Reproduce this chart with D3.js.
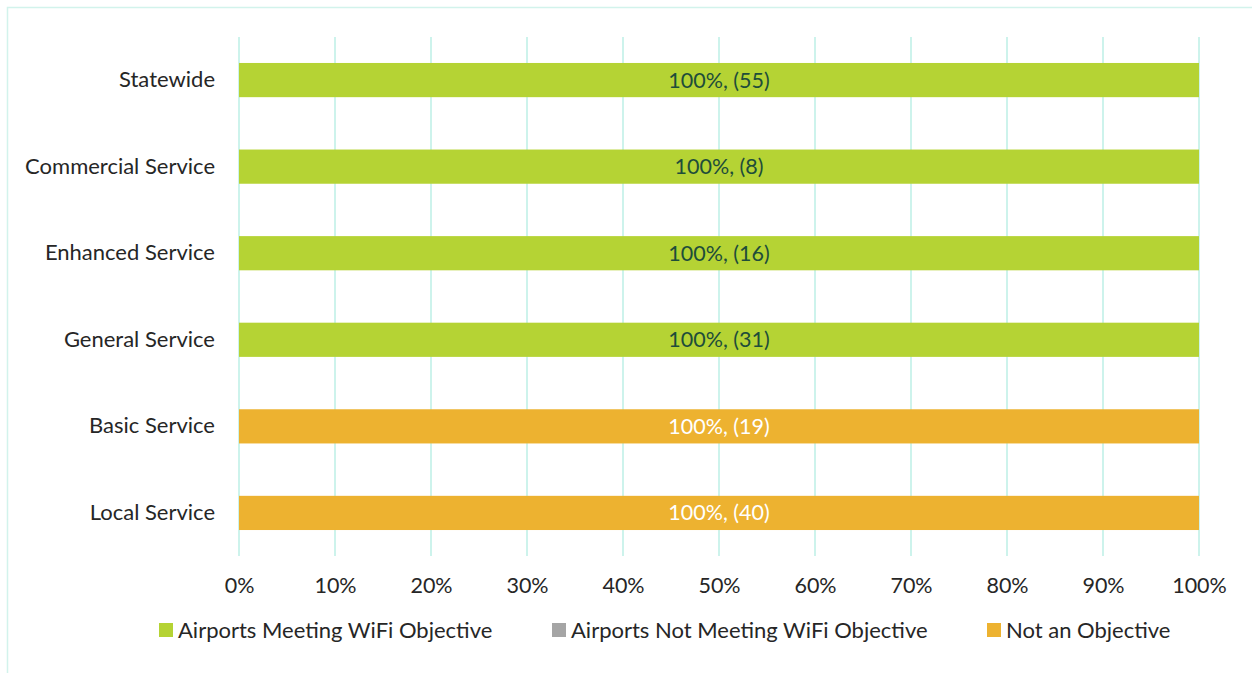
<!DOCTYPE html>
<html>
<head>
<meta charset="utf-8">
<script src="https://cdn.jsdelivr.net/npm/d3@7"></script>
<style>
  body { margin: 0; background: #fff; }
  svg text { font-family: Lato, "Open Sans", sans-serif; }
</style>
</head>
<body>
<svg id="chart" width="1252" height="673"></svg>
<script>
// data
const categories = ["Statewide", "Commercial Service", "Enhanced Service", "General Service", "Basic Service", "Local Service"];
const meeting = [100, 100, 100, 100, 0, 0];
const notMeeting = [0, 0, 0, 0, 0, 0];
const notObjective = [0, 0, 0, 0, 100, 100];
const counts = [55, 8, 16, 31, 19, 40];
const seriesNames = ["Airports Meeting WiFi Objective", "Airports Not Meeting WiFi Objective", "Not an Objective"];
const seriesColors = ["#b5d334", "#a5a5a5", "#edb230"];
const labelColors = ["#1e4d3a", "#ffffff", "#ffffff"];
const xTicks = [0, 10, 20, 30, 40, 50, 60, 70, 80, 90, 100];

const svg = d3.select("#chart");

// outer frame
svg.append("rect")
    .attr("x", 7.5).attr("y", 7.5)
    .attr("width", 1260).attr("height", 680)
    .attr("fill", "none")
    .attr("stroke", "#d2f3ec")
    .attr("stroke-width", 1.5);

const plotLeft = 239, plotRight = 1199, plotTop = 37, plotBottom = 556;

const x = d3.scaleLinear().domain([0, 100]).range([plotLeft, plotRight]);
const y = d3.scaleBand().domain(categories).range([plotTop, plotBottom]).paddingInner(0.605).paddingOuter(0.3);

// gridlines
svg.append("g")
    .selectAll("line")
    .data(xTicks)
    .enter()
    .append("line")
    .attr("x1", d => x(d)).attr("x2", d => x(d))
    .attr("y1", plotTop).attr("y2", plotBottom)
    .attr("stroke", "#cdf3ec")
    .attr("stroke-width", 2);

// stacked data
const rows = categories.map((c, i) => ({
    cat: c,
    vals: [meeting[i], notMeeting[i], notObjective[i]],
    count: counts[i]
}));

const segs = [];
rows.forEach(r => {
    let acc = 0;
    r.vals.forEach((v, si) => {
        if (v > 0) segs.push({ cat: r.cat, s: si, x0: acc, x1: acc + v, v, count: r.count });
        acc += v;
    });
});

svg.append("g")
    .selectAll("rect")
    .data(segs)
    .enter()
    .append("rect")
    .attr("x", d => x(d.x0))
    .attr("y", d => y(d.cat))
    .attr("width", d => x(d.x1) - x(d.x0))
    .attr("height", y.bandwidth())
    .attr("fill", d => seriesColors[d.s]);

svg.append("g")
    .selectAll("text")
    .data(segs)
    .enter()
    .append("text")
    .attr("x", d => (x(d.x0) + x(d.x1)) / 2)
    .attr("y", d => y(d.cat) + y.bandwidth() / 2)
    .attr("dy", "0.35em")
    .attr("text-anchor", "middle")
    .attr("font-size", 21.5)
    .attr("fill", d => labelColors[d.s])
    .text(d => `${d.v}%, (${d.count})`);

// category labels
const yAxis = svg.append("g")
    .attr("transform", `translate(${plotLeft},0)`)
    .call(d3.axisLeft(y).tickSize(0).tickPadding(24));
yAxis.select(".domain").remove();
yAxis.selectAll("text").attr("font-size", 22).attr("fill", "#262626")
    .style("font-family", "Lato, 'Open Sans', sans-serif");

// x axis
const xAxis = svg.append("g")
    .attr("transform", `translate(0,${plotBottom})`)
    .call(d3.axisBottom(x).tickValues(xTicks).tickFormat(d => d + "%").tickSize(0).tickPadding(22));
xAxis.select(".domain").remove();
xAxis.selectAll("text").attr("font-size", 21.5).attr("fill", "#262626")
    .style("font-family", "Lato, 'Open Sans', sans-serif");

// legend
const legendX = [159, 552, 987];
const legend = svg.append("g")
    .selectAll("g")
    .data(seriesNames)
    .enter()
    .append("g")
    .attr("transform", (d, i) => `translate(${legendX[i]},630)`);
legend.append("rect")
    .attr("x", 0).attr("y", -7)
    .attr("width", 14).attr("height", 14)
    .attr("fill", (d, i) => seriesColors[i]);
legend.append("text")
    .attr("x", 19)
    .attr("dy", "0.35em")
    .attr("font-size", 22)
    .attr("fill", "#262626")
    .text(d => d);
</script>
</body>
</html>
